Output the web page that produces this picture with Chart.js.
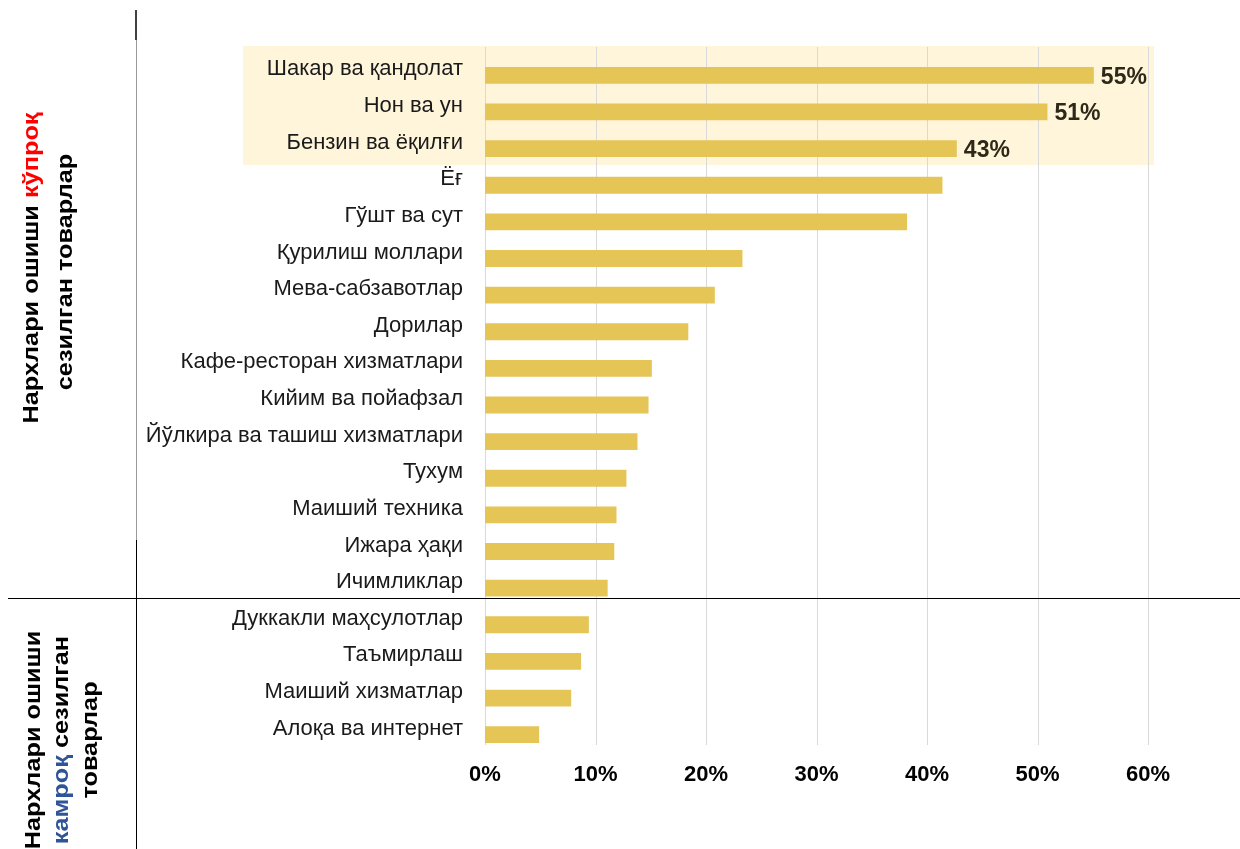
<!DOCTYPE html>
<html>
<head>
<meta charset="utf-8">
<script src="https://cdn.jsdelivr.net/npm/chart.js@4/dist/chart.umd.min.js"></script>
<style>
  body { margin: 0; background: #fff; }
  #wrap { width: 1240px; height: 849px; }
</style>
</head>
<body>
<div id="wrap"><canvas id="myBarChart" width="1240" height="849"></canvas></div>
<script>
// категориялар
const categories = [
    "Шакар ва қандолат",
    "Нон ва ун",
    "Бензин ва ёқилғи",
    "Ёғ",
    "Гўшт ва сут",
    "Қурилиш моллари",
    "Мева-сабзавотлар",
    "Дорилар",
    "Кафе-ресторан хизматлари",
    "Кийим ва пойафзал",
    "Йўлкира ва ташиш хизматлари",
    "Тухум",
    "Маиший техника",
    "Ижара ҳақи",
    "Ичимликлар",
    "Дуккакли маҳсулотлар",
    "Таъмирлаш",
    "Маиший хизматлар",
    "Алоқа ва интернет"
];

// респондентлар улуши, %
const shares = [55.1, 50.9, 42.7, 41.4, 38.2, 23.3, 20.8, 18.4, 15.1, 14.8, 13.8, 12.8, 11.9, 11.7, 11.1, 9.4, 8.7, 7.8, 4.9];

const xTicks = [0, 10, 20, 30, 40, 50, 60];
const highlightCount = 3; // биринчи 3 та товар ажратилган

const barColor = "#E6C557";
const font = "'Liberation Sans', Arial, sans-serif";

// ёзувни 90 градусга буриб чизиш (бироз чўзиб)
function drawRotated(ctx, cx, cy, parts) {
    ctx.save();
    ctx.translate(cx, cy);
    ctx.rotate(-Math.PI / 2);
    ctx.scale(1.15, 1);
    ctx.textAlign = "left";
    ctx.textBaseline = "middle";
    let total = 0;
    parts.forEach(p => total += ctx.measureText(p[0]).width);
    let pos = -total / 2;
    parts.forEach(p => {
        ctx.fillStyle = p[1];
        ctx.fillText(p[0], pos, 0);
        pos += ctx.measureText(p[0]).width;
    });
    ctx.restore();
}

const decor = {
    id: "decor",
    beforeDraw(chart) {
        const ctx = chart.ctx;
        const x = chart.scales.x, y = chart.scales.y;
        const band = y.getPixelForValue(1) - y.getPixelForValue(0);
        ctx.save();
        // сариқ фон
        const top = y.getPixelForValue(0) - band * 0.8;
        const bot = y.getPixelForValue(highlightCount - 1) + band * 0.45;
        ctx.fillStyle = "#FFF5DA";
        ctx.fillRect(243, top, 1154 - 243, bot - top);
        // тўр чизиқлари
        ctx.strokeStyle = "#d9d9d9";
        ctx.lineWidth = 1;
        xTicks.forEach(v => {
            const px = Math.round(x.getPixelForValue(v)) + 0.5;
            ctx.beginPath();
            ctx.moveTo(px, 47);
            ctx.lineTo(px, 745);
            ctx.stroke();
        });
        ctx.restore();
    },
    afterDatasetsDraw(chart) {
        const ctx = chart.ctx;
        const meta = chart.getDatasetMeta(0);
        ctx.save();
        ctx.font = "bold 23px " + font;
        ctx.fillStyle = "#2e2818";
        ctx.textAlign = "left";
        ctx.textBaseline = "middle";
        for (let i = 0; i < highlightCount; i++) {
            const bar = meta.data[i];
            ctx.fillText(Math.round(shares[i]) + "%", bar.x + 7, bar.y + 2);
        }
        ctx.restore();
    },
    afterDraw(chart) {
        const ctx = chart.ctx;
        ctx.save();
        // чап томондаги чизиқлар
        ctx.strokeStyle = "#000";
        ctx.lineWidth = 1.5;
        ctx.beginPath(); ctx.moveTo(136, 10); ctx.lineTo(136, 40); ctx.stroke();
        ctx.strokeStyle = "#9a9a9a";
        ctx.lineWidth = 1;
        ctx.beginPath(); ctx.moveTo(136.5, 40); ctx.lineTo(136.5, 540); ctx.stroke();
        ctx.strokeStyle = "#000";
        ctx.beginPath(); ctx.moveTo(136.5, 540); ctx.lineTo(136.5, 849); ctx.stroke();
        ctx.beginPath(); ctx.moveTo(8, 598.5); ctx.lineTo(1240, 598.5); ctx.stroke();

        ctx.font = "bold 22px " + font;
        drawRotated(ctx, 32, 268, [["Нархлари ошиши ", "#000"], ["кўпроқ", "#FF0000"]]);
        drawRotated(ctx, 66, 272, [["сезилган товарлар", "#000"]]);
        drawRotated(ctx, 34, 740, [["Нархлари ошиши", "#000"]]);
        drawRotated(ctx, 62, 740, [["камроқ", "#2F5597"], [" сезилган", "#000"]]);
        drawRotated(ctx, 91, 740, [["товарлар", "#000"]]);
        ctx.restore();
    }
};

const ctx = document.getElementById("myBarChart").getContext("2d");
const myBarChart = new Chart(ctx, {
    type: "bar",
    data: {
        labels: categories,
        datasets: [{
            data: shares,
            backgroundColor: barColor,
            borderWidth: 0,
            barPercentage: 0.46,
            categoryPercentage: 1
        }]
    },
    options: {
        indexAxis: "y",
        responsive: false,
        animation: false,
        layout: { padding: { top: 57, right: 92, left: 0, bottom: 0 } },
        plugins: {
            legend: { display: false },
            tooltip: { enabled: false }
        },
        scales: {
            x: {
                min: 0,
                max: 60,
                afterBuildTicks: scale => { scale.ticks = xTicks.map(v => ({ value: v })); },
                afterFit: scale => { scale.height = 96; },
                grid: { display: false, drawTicks: false },
                border: { display: false },
                ticks: {
                    padding: 9,
                    color: "#000",
                    font: { family: font, size: 22, weight: "bold" },
                    callback: v => v + "%"
                }
            },
            y: {
                afterFit: scale => { scale.width = 485; },
                grid: { display: false, drawTicks: false },
                border: { display: false },
                ticks: {
                    padding: 22,
                    labelOffset: -6,
                    color: "#1a1a1a",
                    autoSkip: false,
                    font: { family: font, size: 22 }
                }
            }
        }
    },
    plugins: [decor]
});
</script>
</body>
</html>
